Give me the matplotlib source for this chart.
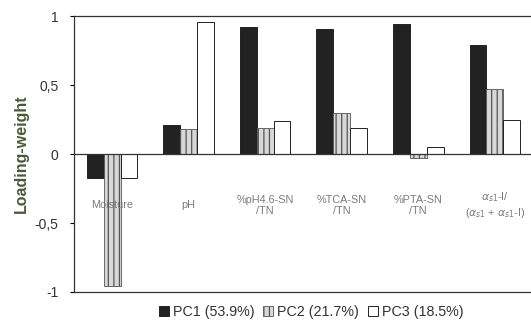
import numpy as np
import matplotlib
matplotlib.use("Agg")
import matplotlib.pyplot as plt

plt.rcParams["font.family"] = ["Liberation Sans", "DejaVu Sans"]
plt.rcParams["hatch.color"] = "#9a9a9a"
plt.rcParams["hatch.linewidth"] = 0.9

# Loading weights
categories = ["Moisture", "pH", "%pH4.6-SN\n/TN", "%TCA-SN\n/TN", "%PTA-SN\n/TN",
              r"$\alpha_{s1}$-I/" + "\n" + r"($\alpha_{s1}$ + $\alpha_{s1}$-I)"]
pc1 = [-0.17, 0.21, 0.92, 0.91, 0.94, 0.79]
pc2 = [-0.96, 0.18, 0.19, 0.295, -0.03, 0.47]
pc3 = [-0.17, 0.96, 0.24, 0.19, 0.05, 0.25]
series_labels = ["PC1 (53.9%)", "PC2 (21.7%)", "PC3 (18.5%)"]
y_ticks = [-1, -0.5, 0, 0.5, 1]
y_ticklabels = ["-1", "-0,5", "0", "0,5", "1"]

fig = plt.figure(figsize=(5.31, 3.23), dpi=100)
ax = fig.add_axes([0.139, 0.096, 0.865, 0.854])

x = np.arange(len(categories))
w = 0.22
ax.bar(x - w, pc1, w, color="#222222", edgecolor="#111111", linewidth=0.6,
       label=series_labels[0])
ax.bar(x, pc2, w, color="#d8d8d8", edgecolor="#555555", linewidth=0.6,
       hatch="|||", label=series_labels[1])
ax.bar(x + w, pc3, w, color="white", edgecolor="#222222", linewidth=0.7,
       label=series_labels[2])

ax.axhline(0, color="#333333", linewidth=0.9)

for xi, name in zip(x, categories):
    ax.text(xi, -0.37, name, ha="center", va="center", fontsize=7.8,
            color="#7a7a7a", linespacing=1.15)

ax.set_xlim(-0.5, len(categories) - 0.5)
ax.set_ylim(-1, 1)
ax.set_xticks([])
ax.set_yticks(y_ticks)
ax.set_yticklabels(y_ticklabels, fontsize=10, color="#333333")
ax.tick_params(axis="y", length=3, width=0.8, pad=8)
ax.spines["right"].set_visible(False)
for s in ["left", "top", "bottom"]:
    ax.spines[s].set_linewidth(0.9)
    ax.spines[s].set_color("#333333")

ax.set_ylabel("Loading-weight", fontsize=11.5, fontweight="bold",
              color="#4a5a3a", labelpad=4)

fig.legend(loc="center", bbox_to_anchor=(0.586, 0.034), ncol=3, frameon=False,
           fontsize=10.3, handlelength=0.7, handleheight=0.7, handletextpad=0.3,
           columnspacing=0.6, labelcolor="#333333")

fig.savefig("out.png", dpi=100)
